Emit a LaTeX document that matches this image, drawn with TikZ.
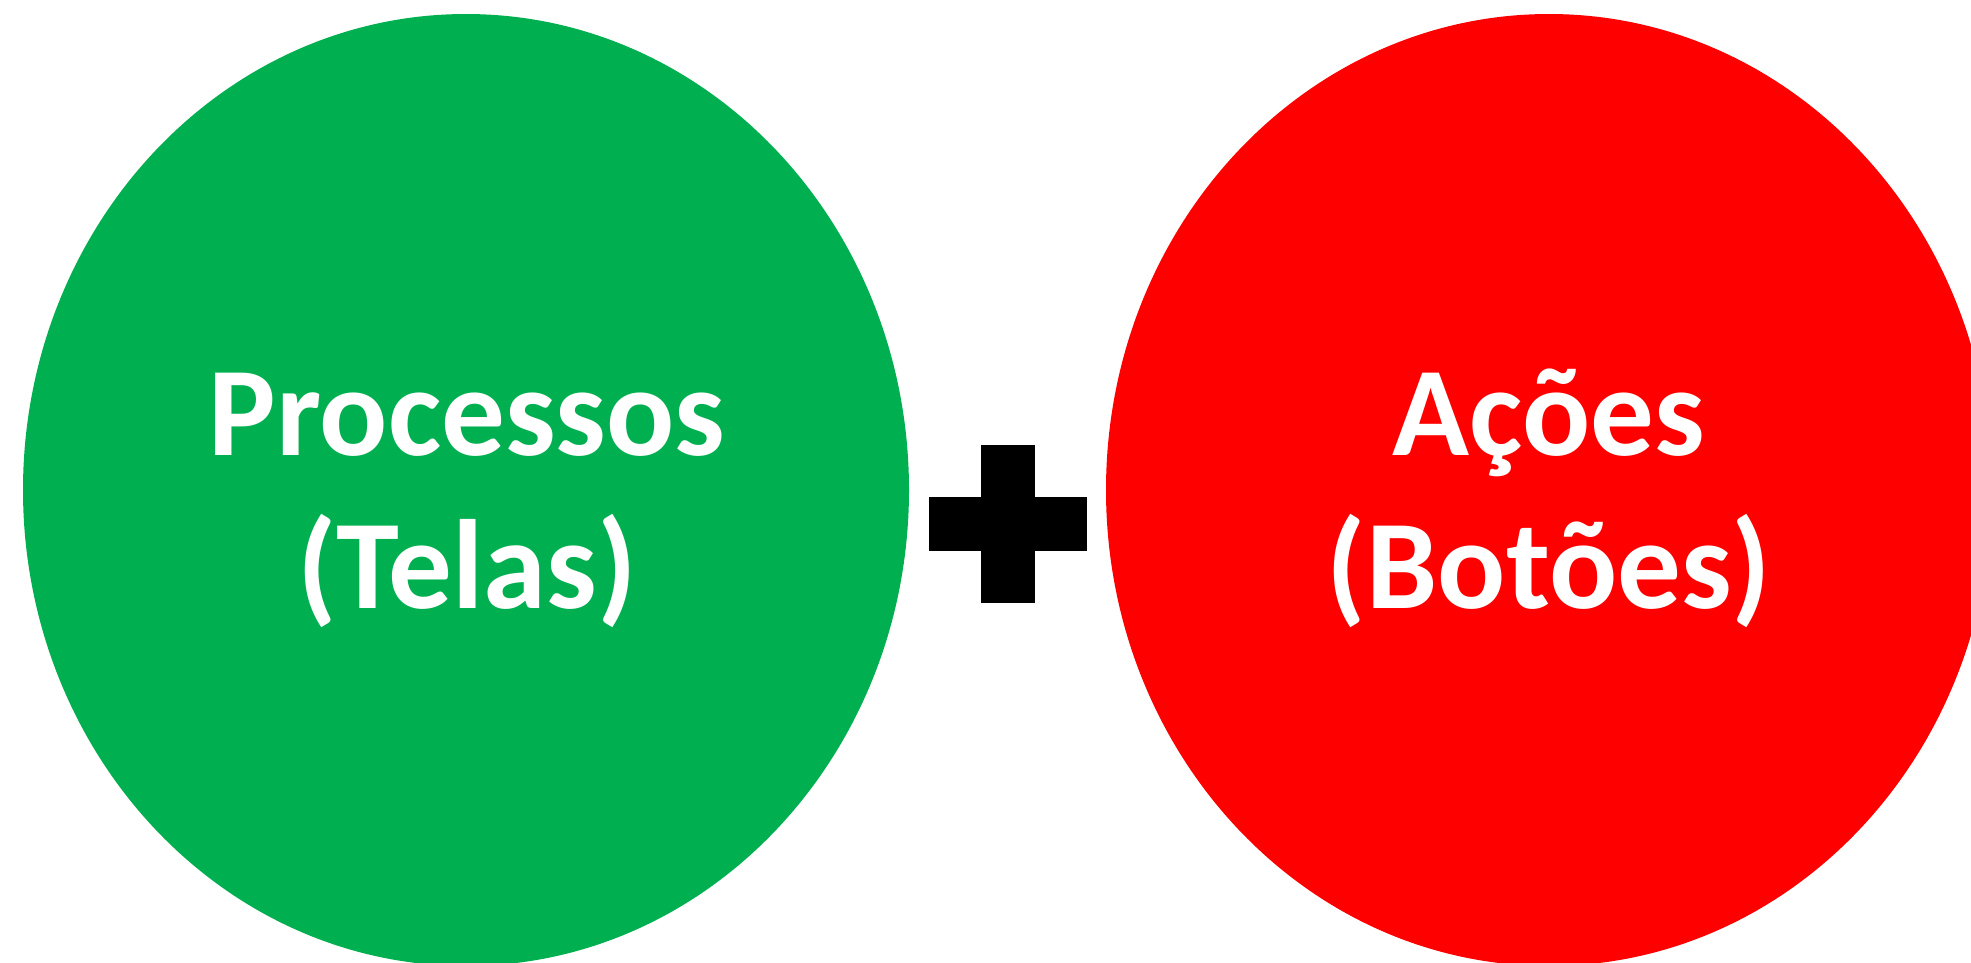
\documentclass[tikz,border=0pt]{standalone}
\usepackage{fontspec}
\setmainfont{Carlito}
\definecolor{offgreen}{HTML}{00B050}
\definecolor{offred}{HTML}{FF0000}
\tikzset{
  blob/.style={draw=none},
  label/.style={text=white, font=\bfseries\fontsize{127}{153}\selectfont, anchor=base, inner sep=0pt}
}
\begin{document}
\begin{tikzpicture}[x=1pt,y=-1pt]
\useasboundingbox (0,0) rectangle (1971,962);
\clip (0,0) rectangle (1971,962);
\fill[white] (0,0) rectangle (1971,962);
\fill[offgreen] (466,490) ellipse [x radius=443, y radius=476];
\fill[offred] (1549,490) ellipse [x radius=443, y radius=476];
% plus sign
\fill[black] (981,445) rectangle (1035,603);
\fill[black] (929,497) rectangle (1087,551);
\node[label] (p1) at (467,455) {Processos};
\node[label] (p2) at (467,608) {(Telas)};
\node[label] (a1) at (1549,455) {Ações};
\node[label] (a2) at (1549,608) {(Botões)};
\end{tikzpicture}
\end{document}
